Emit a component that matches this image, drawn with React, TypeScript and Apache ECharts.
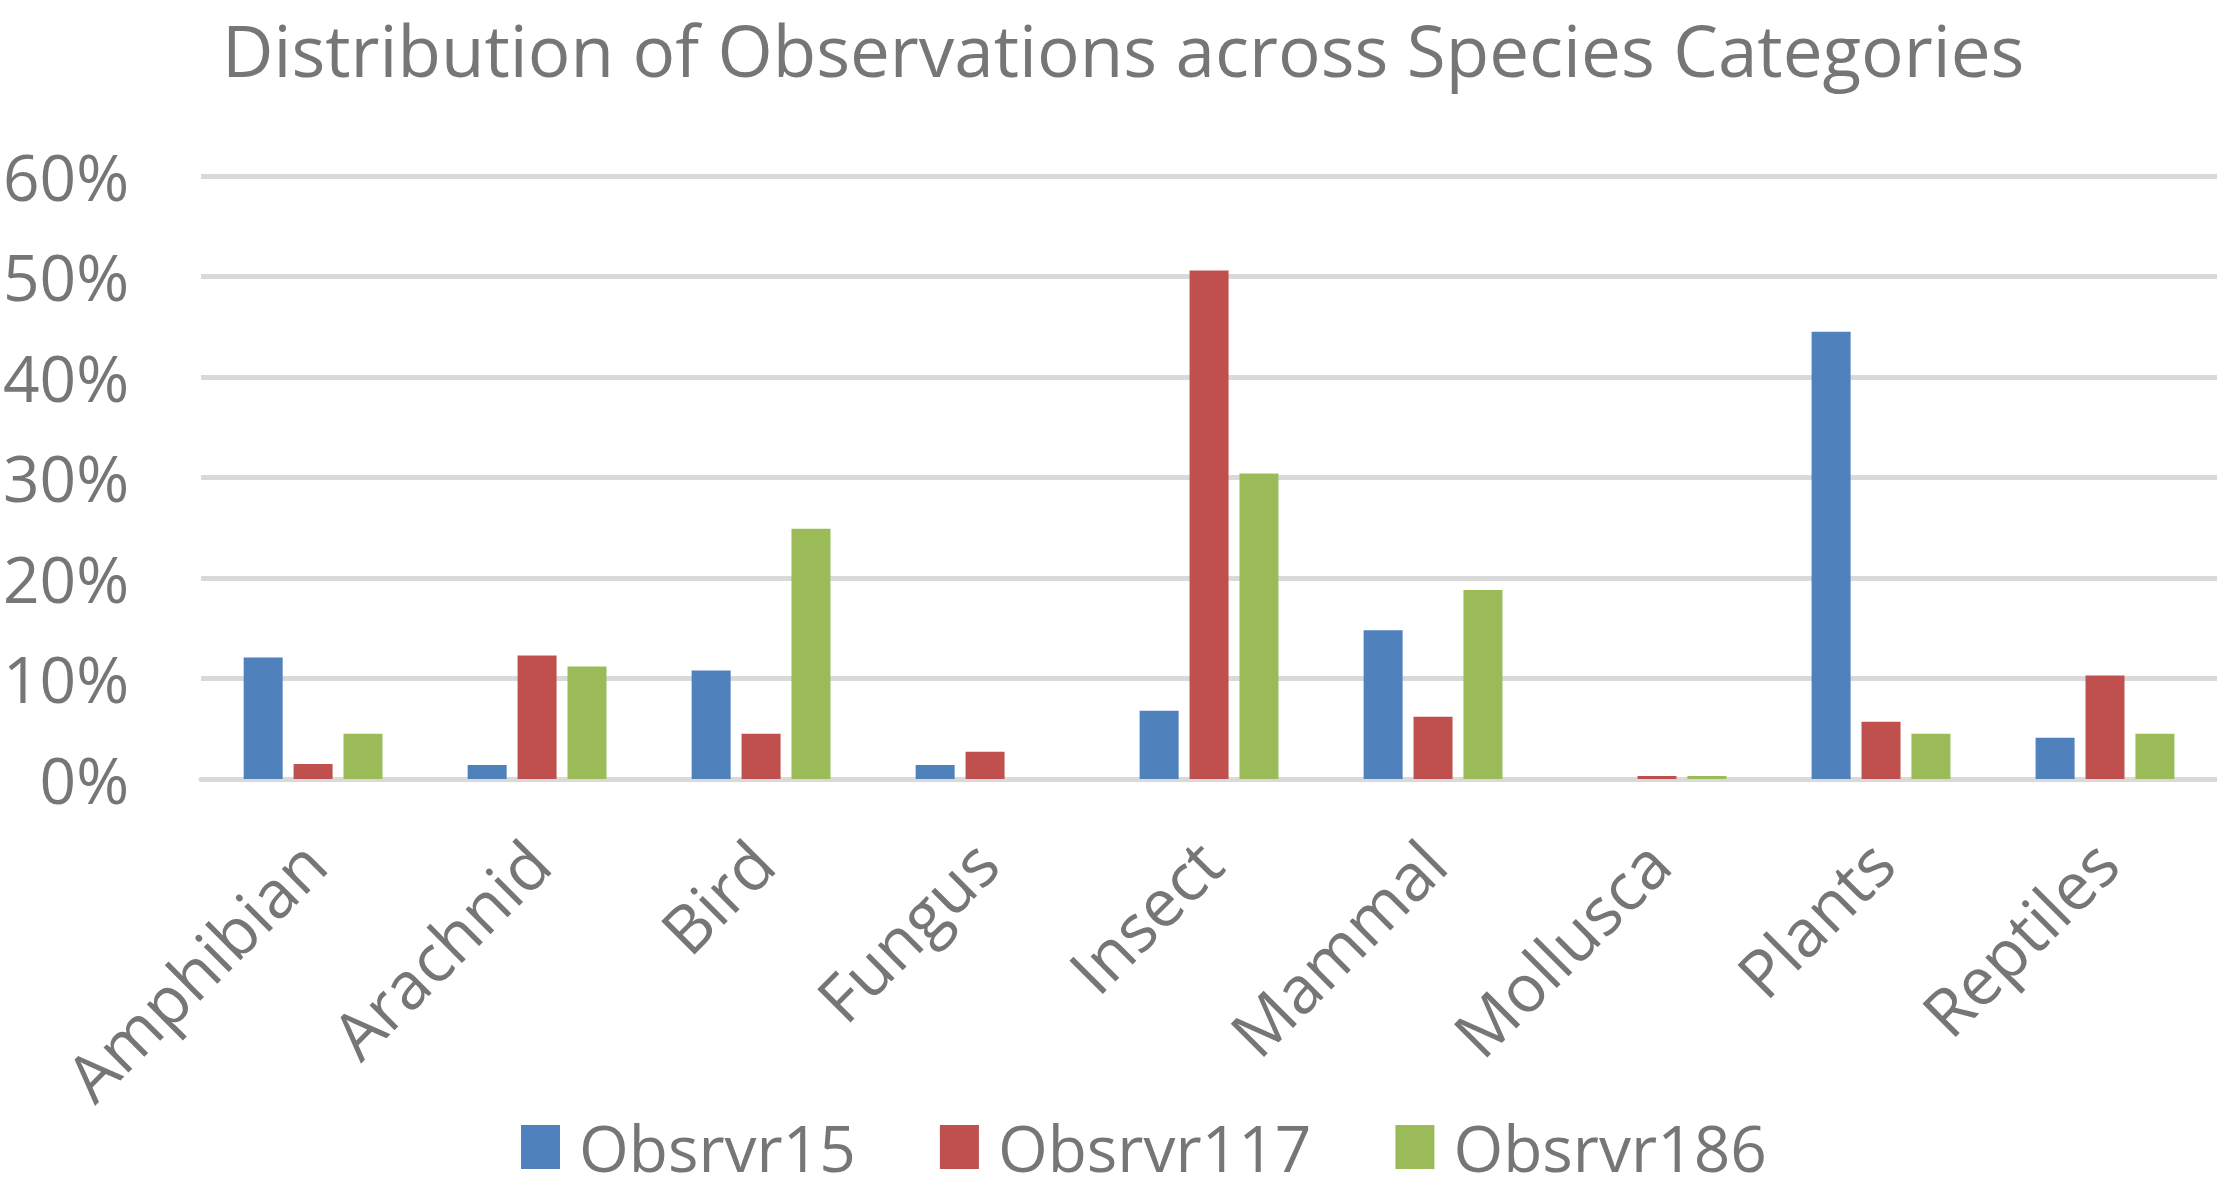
import React, { useEffect, useRef } from "react";
import * as echarts from "echarts";

const categories = ["Amphibian", "Arachnid", "Bird", "Fungus", "Insect", "Mammal", "Mollusca", "Plants", "Reptiles"];
const obsrvr15 = [12.1, 1.4, 10.8, 1.4, 6.8, 14.8, 0, 44.5, 4.1];
const obsrvr117 = [1.5, 12.3, 4.5, 2.7, 50.6, 6.2, 0.3, 5.7, 10.3];
const obsrvr186 = [4.5, 11.2, 24.9, 0, 30.4, 18.8, 0.3, 4.5, 4.5];
const seriesNames = ["Obsrvr15", "Obsrvr117", "Obsrvr186"];
const seriesColors = ["#4F81BD", "#C0504D", "#9BBB59"];

const FONT = "'Open Sans', sans-serif";
const GRAY = "#767676";

export default function App() {
  const ref = useRef<HTMLDivElement>(null);
  useEffect(() => {
    if (!ref.current) return;
    const chart = echarts.init(ref.current, undefined, { renderer: "svg" });
    const data = [obsrvr15, obsrvr117, obsrvr186];
    chart.setOption({
      animation: false,
      backgroundColor: "#ffffff",
      title: {
        text: "Distribution of Observations across Species Categories",
        left: 222,
        top: 14,
        padding: 0,
        textStyle: { fontFamily: FONT, fontSize: 71, fontWeight: "normal", color: GRAY },
      },
      legend: {
        data: seriesNames,
        top: 1110,
        left: 516,
        icon: "rect",
        itemWidth: 39,
        itemHeight: 44,
        itemGap: 84,
        textStyle: { fontFamily: FONT, fontSize: 64, color: GRAY, padding: [0, 0, 0, 14] },
      },
      grid: { left: 198, right: 0, top: 176, bottom: 420, containLabel: false },
      xAxis: {
        type: "category",
        data: categories,
        axisLine: { show: true, lineStyle: { color: "#D9D9D9", width: 5 } },
        axisTick: { show: false },
        axisLabel: {
          rotate: 45,
          margin: 72,
          fontFamily: FONT,
          fontSize: 66,
          color: GRAY,
          interval: 0,
        },
      },
      yAxis: {
        type: "value",
        min: 0,
        max: 60,
        interval: 10,
        axisLine: { show: false },
        axisTick: { show: false },
        splitLine: { lineStyle: { color: "#D9D9D9", width: 5 } },
        axisLabel: {
          formatter: "{value}%",
          margin: 72,
          fontFamily: FONT,
          fontSize: 64,
          color: GRAY,
        },
      },
      series: seriesNames.map((name, i) => ({
        name,
        type: "bar",
        data: data[i],
        barWidth: 39,
        barGap: "28%",
        itemStyle: { color: seriesColors[i] },
      })),
    });
    return () => chart.dispose();
  }, []);
  return (
    <div
      ref={ref}
      style={{ position: "fixed", left: 0, top: 0, width: 2217, height: 1199 }}
    />
  );
}
